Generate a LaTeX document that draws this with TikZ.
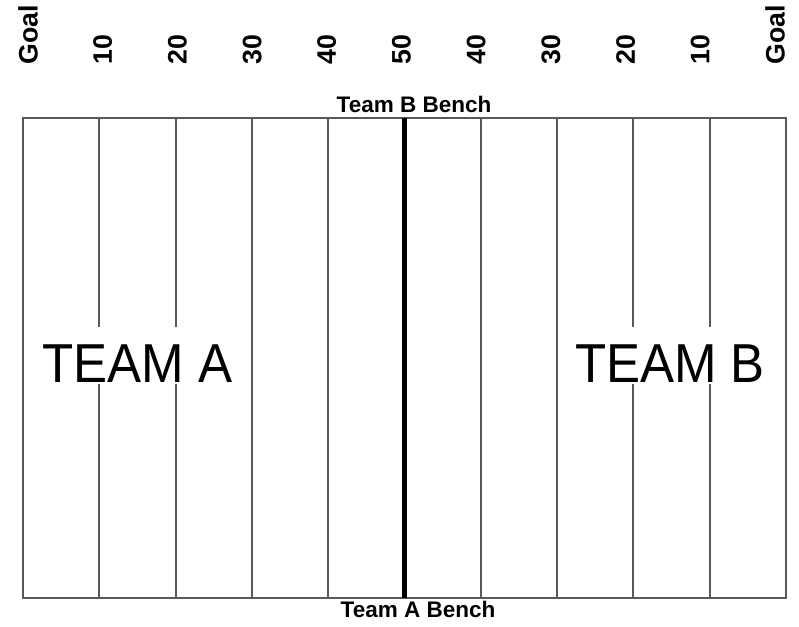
\documentclass[tikz,border=0pt]{standalone}
\usepackage{fontspec}
\setmainfont{Liberation Sans}
\begin{document}
\begin{tikzpicture}[
		x=0.01cm, y=-0.01cm,
		yard/.style  = {draw=black!65, line width=0.6pt},
		mid/.style   = {draw=black, line width=1.6pt},
		ydlbl/.style = {font=\fontsize{7.6}{8}\selectfont\bfseries, rotate=90, anchor=west, inner sep=0pt},
		bench/.style = {font=\fontsize{6.4}{7}\selectfont\bfseries, anchor=base, inner sep=0pt},
		team/.style  = {font=\fontsize{15.6}{17}\selectfont, anchor=base, fill=white, inner sep=0pt, text height=0.55cm, text depth=0.02cm}
		]
		\useasboundingbox (0,0) rectangle (799,626);
		
		% Field and yard lines
		\draw[yard] (23,118) rectangle (786,598);
		\foreach \i in {1,2,3,4,6,7,8,9}{
			\draw[yard] ({23+76.3*\i},118) -- ({23+76.3*\i},598);
		}
		\draw[mid] (404.5,118) -- (404.5,598);
		
		% Labels top: yard marks
		\foreach \lbl [count=\k] in {Goal,10,20,30,40,50,40,30,20,10,Goal}{
			\node[ydlbl] (yd\k) at ({28+74.7*(\k-1)},65) {\lbl};
		}
		
		% Benches
		\node[bench] (benchB) at (414,112) {Team B Bench};
		\node[bench] (benchA) at (418,617) {Team A Bench};
		
		% Team names
		\node[team] (teamA) at (137.5,382) {\scalebox{0.93}[1]{TEAM A}};
		\node[team] (teamB) at (670,382) {\scalebox{0.93}[1]{TEAM B}};
	\end{tikzpicture}
\end{document}
